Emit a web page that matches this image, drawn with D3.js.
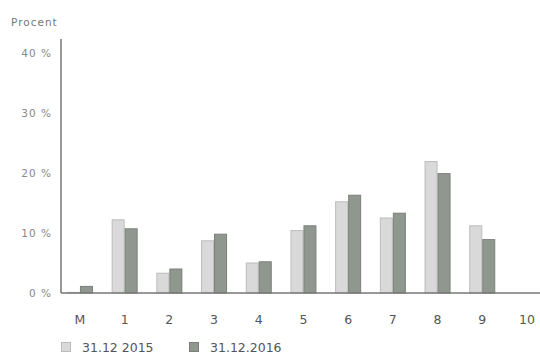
<!DOCTYPE html>
<html>
<head>
<meta charset="utf-8">
<script src="https://cdn.jsdelivr.net/npm/d3@7/dist/d3.min.js"></script>
<style>
  html, body { margin: 0; padding: 0; background: #fff; }
  svg { display: block; font-family: "DejaVu Sans", sans-serif; }
</style>
</head>
<body>
<svg id="chart" width="540" height="354"></svg>
<script>
// Share of portfolio per rating class, two reporting dates
const categories = ["M", "1", "2", "3", "4", "5", "6", "7", "8", "9", "10"];
const series2015 = [0.1, 12.2, 3.3, 8.7, 5.0, 10.4, 15.2, 12.5, 21.9, 11.2, 0];
const series2016 = [1.1, 10.7, 4.0, 9.8, 5.2, 11.2, 16.3, 13.3, 19.9, 8.9, 0];
const seriesNames = ["31.12 2015", "31.12.2016"];
const yTicks = [0, 10, 20, 30, 40];
const yTickLabels = ["0 %", "10 %", "20 %", "30 %", "40 %"];

const svg = d3.select("#chart");

const x = d3.scaleBand()
  .domain(categories)
  .range([57.6, 549.3])
  .paddingInner(0)
  .paddingOuter(0);

const y = d3.scaleLinear().domain([0, 40]).range([293, 53]);

const barW = 13;
const colors = { fill: ["#d9d9d9", "#8f978f"], stroke: ["#bcbcbc", "#7a807a"] };

// Bars
[series2015, series2016].forEach((vals, s) => {
  svg.append("g")
    .selectAll("rect")
    .data(categories.map((c, i) => ({ c, v: vals[i] })).filter(d => d.v > 0))
    .join("rect")
    .attr("x", d => x(d.c) + x.bandwidth() / 2 - barW + s * barW + 0.5)
    .attr("y", d => y(d.v))
    .attr("width", barW - 1)
    .attr("height", d => y(0) - y(d.v))
    .attr("fill", colors.fill[s])
    .attr("stroke", colors.stroke[s])
    .attr("stroke-width", 1);
});

// Y axis line
svg.append("line")
  .attr("x1", 61).attr("x2", 61)
  .attr("y1", 39).attr("y2", y(0))
  .attr("stroke", "#777").attr("stroke-width", 1.5);

// Baseline
svg.append("line")
  .attr("x1", 61).attr("x2", 540)
  .attr("y1", y(0)).attr("y2", y(0))
  .attr("stroke", "#777").attr("stroke-width", 1.5);

// Y tick labels
svg.append("g")
  .selectAll("text")
  .data(yTicks)
  .join("text")
  .attr("x", 52)
  .attr("y", d => y(d) + 4)
  .attr("text-anchor", "end")
  .attr("font-size", 10.5)
  .attr("letter-spacing", 1)
  .attr("fill", "#888")
  .text((d, i) => yTickLabels[i]);

// Y axis title
svg.append("text")
  .attr("x", 11).attr("y", 26)
  .attr("font-size", 10.5)
  .attr("letter-spacing", 1)
  .attr("fill", "#777")
  .text("Procent");

// X category labels
svg.append("g")
  .selectAll("text")
  .data(categories)
  .join("text")
  .attr("x", d => x(d) + x.bandwidth() / 2)
  .attr("y", 324)
  .attr("text-anchor", "middle")
  .attr("font-size", 12.5)
  .attr("fill", "#555")
  .text(d => d);

// Legend
const legendX = [61, 189];
seriesNames.forEach((name, s) => {
  svg.append("rect")
    .attr("x", legendX[s] + 0.5).attr("y", 342.5)
    .attr("width", 9).attr("height", 9)
    .attr("fill", colors.fill[s])
    .attr("stroke", colors.stroke[s]);
  svg.append("text")
    .attr("x", legendX[s] + 21).attr("y", 352)
    .attr("font-size", 12.5)
    .attr("fill", "#555")
    .text(name);
});
</script>
</body>
</html>
